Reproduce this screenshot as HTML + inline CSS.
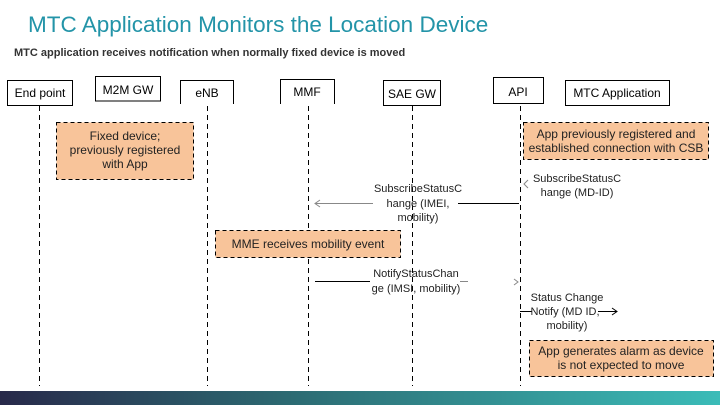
<!DOCTYPE html>
<html><head><meta charset="utf-8"><style>
html,body{margin:0;padding:0;background:#fff;}
svg{display:block;font-family:"Liberation Sans",Arial,sans-serif;}
</style></head><body>
<svg width="720" height="405" viewBox="0 0 720 405" xmlns="http://www.w3.org/2000/svg">
<defs>
<linearGradient id="g" x1="0" x2="1" y1="0" y2="0">
<stop offset="0" stop-color="#28294a"/><stop offset="0.4" stop-color="#2c6a72"/><stop offset="1" stop-color="#3bbcb8"/>
</linearGradient>
</defs>
<text x="28" y="32" font-size="22.5" fill="#2394a8">MTC Application Monitors the Location Device</text>
<text x="14" y="56" font-size="11" font-weight="bold" fill="#333">MTC application receives notification when normally fixed device is moved</text>

<g stroke="#000" stroke-width="1" stroke-dasharray="5,4" fill="none">
<line x1="39.5" y1="106" x2="39.5" y2="386"/>
<line x1="207.5" y1="106" x2="207.5" y2="386"/>
<line x1="308.5" y1="106" x2="308.5" y2="386"/>
<line x1="412.5" y1="106" x2="412.5" y2="386"/>
<line x1="520.5" y1="106" x2="520.5" y2="386"/>
</g>

<g stroke="#000" stroke-width="1" fill="#fff">
<rect x="7.5" y="80.5" width="65" height="25"/>
<path d="M95.5 101 V76.5 H160.5 V101 Z"/>
<path d="M180.5 104 V80.5 H233.5 V104"/>
<path d="M280.5 104 V79.5 H334.5 V104"/>
<rect x="383.5" y="80.5" width="57" height="25"/>
<rect x="493.5" y="77.5" width="50" height="26"/>
<rect x="565.5" y="80.5" width="104" height="25"/>
</g>
<g font-size="12" fill="#000" text-anchor="middle">
<text x="40" y="97">End point</text>
<text x="128" y="94">M2M GW</text>
<text x="207" y="97">eNB</text>
<text x="307" y="96">MMF</text>
<text x="412" y="98">SAE GW</text>
<text x="518" y="96">API</text>
<text x="617" y="97">MTC Application</text>
</g>

<g fill="#f8c49a" stroke="#000" stroke-dasharray="4,3">
<rect x="56.5" y="122.5" width="137" height="57"/>
<rect x="523.5" y="122.5" width="185" height="37"/>
<rect x="215.5" y="230.5" width="185" height="27"/>
<rect x="529.5" y="340.5" width="184" height="36"/>
</g>
<g font-size="12" fill="#222" text-anchor="middle">
<text x="125" y="140">Fixed device;</text>
<text x="125" y="154">previously registered</text>
<text x="125" y="168">with App</text>
<text x="616" y="138">App previously registered and</text>
<text x="616" y="152">established connection with CSB</text>
<text x="308" y="248">MME receives mobility event</text>
<text x="621" y="355">App generates alarm as device</text>
<text x="621" y="369">is not expected to move</text>
</g>

<g stroke="#000" stroke-width="1" fill="none">
<line x1="315" y1="203.5" x2="373" y2="203.5" stroke="#888"/>
<line x1="458" y1="203.5" x2="519" y2="203.5"/>
<path d="M320 200 L315 203.5 L320 207" stroke="#888"/>
<path d="M528 180 L524 184 L528 188" stroke="#888"/>
<line x1="315" y1="281.5" x2="370" y2="281.5"/>
<line x1="460" y1="281.5" x2="468" y2="281.5" stroke="#888"/>
<path d="M514 279 L518 282 L514 285" stroke="#888"/>
<line x1="520" y1="311.5" x2="532" y2="311.5"/>
<line x1="598" y1="311.5" x2="617" y2="311.5"/>
<path d="M612 308 L617 311.5 L612 315"/>
</g>
<g font-size="11" fill="#222" text-anchor="middle">
<text x="418" y="192">SubscribeStatusC</text>
<text x="418" y="207">hange (IMEI,</text>
<text x="418" y="221">mobility)</text>
<text x="577" y="182">SubscribeStatusC</text>
<text x="577" y="196">hange (MD-ID)</text>
<text x="416" y="277">NotifyStatusChan</text>
<text x="416" y="292">ge (IMSI, mobility)</text>
<text x="567" y="301">Status Change</text>
<text x="565" y="315">Notify (MD ID,</text>
<text x="567" y="329">mobility)</text>
</g>

<rect x="0" y="391" width="720" height="14" fill="url(#g)"/>
</svg>
</body></html>
